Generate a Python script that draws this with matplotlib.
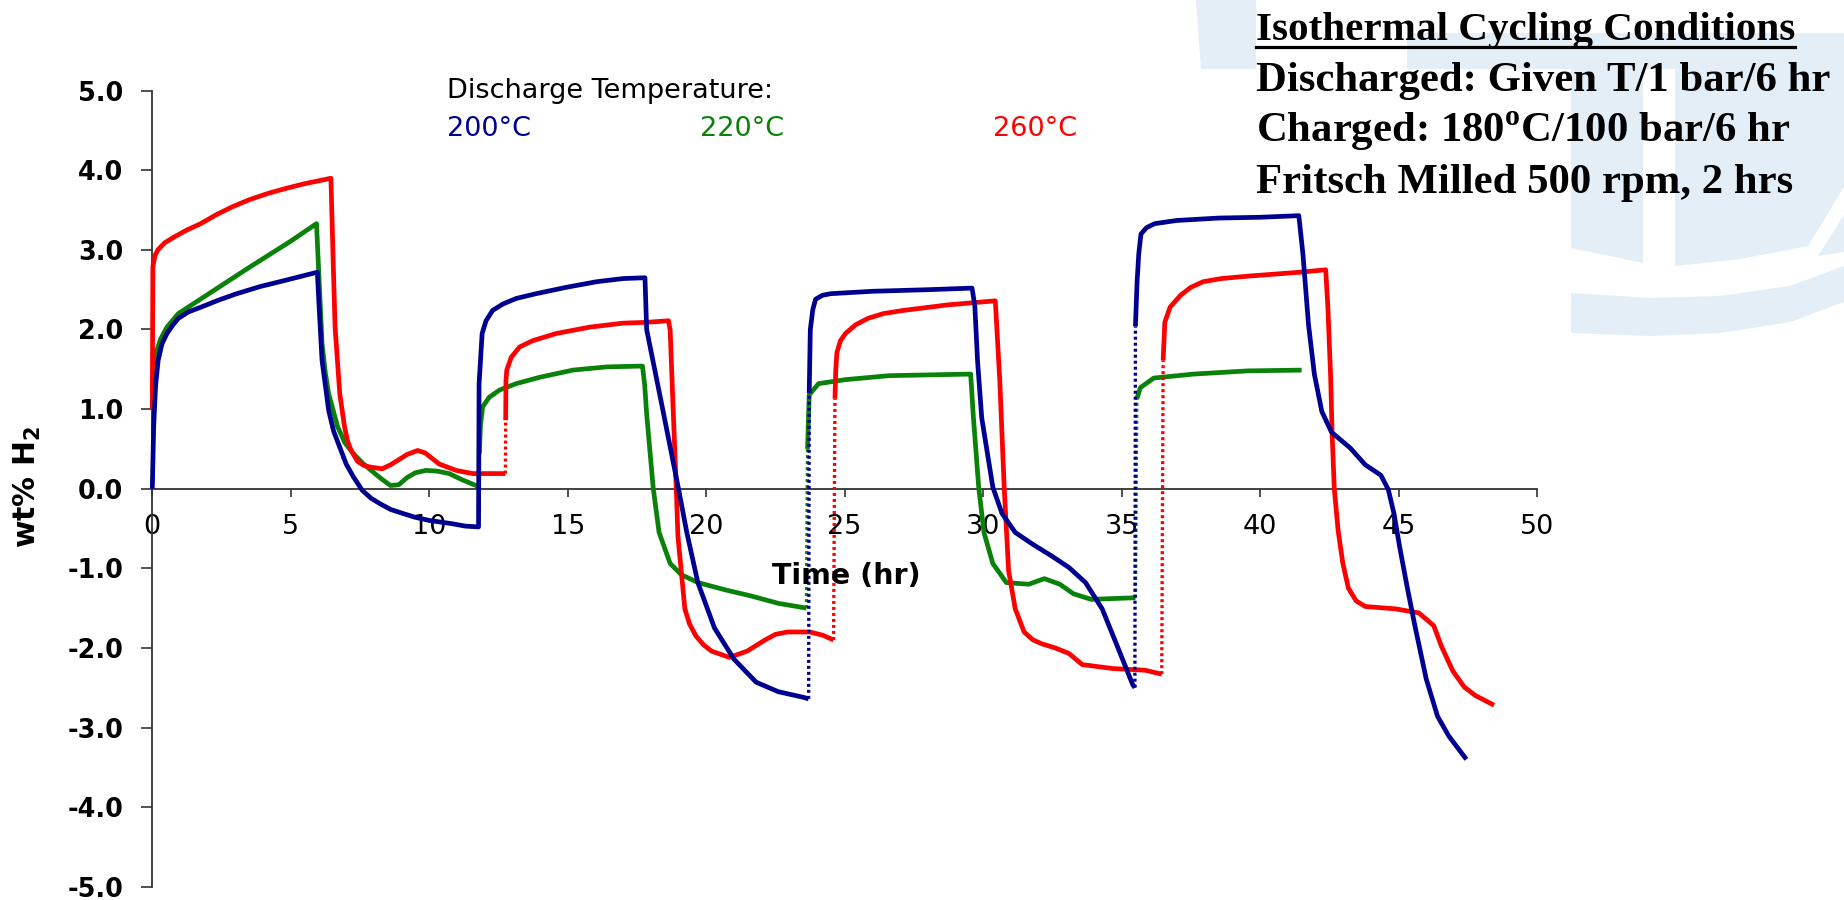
import numpy as np
import matplotlib
matplotlib.use("Agg")
import matplotlib.pyplot as plt
from matplotlib.patches import Polygon
from matplotlib.lines import Line2D

nan = np.nan

# ---------------- data ----------------
series_labels = ["200°C", "220°C", "260°C"]
series_colors = ["#000090", "#0a820a", "#ff0000"]

time_200 = [0, 0.05, 0.12, 0.21, 0.35, 0.53, 0.75, 0.94, 1.3, 1.75, 2.4, 3.05, 3.9, 4.83, 5.96,
            6.03, 6.13, 6.37, 6.55, 6.77, 7.0, 7.26, 7.58, 7.9, 8.23, 8.6, 9.04, 9.5, 10.02,
            10.83, 11.3, 11.78, 11.8, 11.91, 12.05, 12.29, 12.66, 13.14, 13.86, 14.95, 16.04,
            17.0, 17.79, 17.85, 18.4, 19.0, 19.3, 19.7, 20.3, 21.0, 21.8, 22.6, 23.5, 23.7,
            nan,
            23.72, 23.76, 23.85, 23.95, 24.2, 24.5, 26.0, 28.0, 29.6, 29.7, 29.8, 29.95, 30.35,
            30.68, 31.16, 31.8, 32.45, 33.1, 33.7, 34.3, 34.87, 35.4, 35.48,
            nan,
            35.5, 35.56, 35.62, 35.7, 35.9, 36.2, 37.0, 38.5, 40.0, 41.4, 41.55, 41.75, 41.96,
            42.23, 42.58, 43.26, 43.8, 44.36, 44.63, 44.84, 45.04, 45.32, 45.59, 46.0, 46.41,
            46.82, 47.45]
wt_200 = [0, 0.78, 1.3, 1.61, 1.82, 1.95, 2.06, 2.14, 2.22, 2.28, 2.37, 2.45, 2.54, 2.62, 2.72,
          2.24, 1.61, 0.98, 0.72, 0.52, 0.31, 0.15, -0.02, -0.12, -0.19, -0.26, -0.31, -0.36,
          -0.40, -0.44, -0.47, -0.48, 1.32, 1.95, 2.11, 2.24, 2.32, 2.39, 2.45, 2.53, 2.6,
          2.64, 2.65, 2.0, 1.05, 0.0, -0.55, -1.18, -1.75, -2.14, -2.43, -2.55, -2.62, -2.64,
          nan,
          1.2, 2.0, 2.25, 2.38, 2.43, 2.45, 2.48, 2.5, 2.52, 2.3, 1.6, 0.89, 0.02,
          -0.31, -0.55, -0.7, -0.84, -0.99, -1.18, -1.51, -2.0, -2.46, -2.5,
          nan,
          2.04, 2.6, 2.95, 3.2, 3.28, 3.33, 3.37, 3.4, 3.41, 3.43, 2.94, 2.06, 1.44,
          0.97, 0.71, 0.51, 0.30, 0.17, -0.01, -0.32, -0.73, -1.25, -1.72, -2.39, -2.86,
          -3.11, -3.4]

time_220 = [0.02, 0.06, 0.13, 0.3, 0.53, 0.94, 2.0, 3.5, 5.0, 5.93, 6.0, 6.13, 6.25, 6.37, 6.69,
            6.95, 7.26, 7.6, 7.9, 8.25, 8.6, 8.9, 9.2, 9.5, 9.88, 10.3, 10.72, 11.2, 11.69, 11.8,
            nan,
            11.81, 11.85, 11.93, 12.17, 12.54, 13.14, 13.99, 15.19, 16.4, 17.6, 17.7, 17.78,
            17.85, 18.09, 18.3, 18.7, 19.1, 19.71, 20.68, 21.65, 22.6, 23.62,
            nan,
            23.66, 23.72, 24.06, 25.03, 26.6, 29.55, 29.65, 29.84, 30.03, 30.35, 30.84, 31.65,
            32.21, 32.77, 33.26, 33.9, 35.5,
            nan,
            35.55, 35.68, 36.16, 37.6, 39.55, 41.5]
wt_220 = [1.0, 1.45, 1.7, 1.88, 2.03, 2.2, 2.44, 2.78, 3.11, 3.33, 2.79, 1.82, 1.45, 1.19, 0.78,
          0.58, 0.44, 0.32, 0.23, 0.13, 0.04, 0.05, 0.14, 0.2, 0.23, 0.22, 0.19, 0.11, 0.04, 0.02,
          nan,
          0.44, 0.8, 1.03, 1.15, 1.24, 1.32, 1.4, 1.49, 1.53, 1.54, 1.54, 1.3,
          0.94, 0.0, -0.55, -0.94, -1.08, -1.18, -1.27, -1.35, -1.44, -1.5,
          nan,
          0.5, 1.18, 1.32, 1.37, 1.42, 1.44, 0.89, 0.02, -0.55, -0.94, -1.18, -1.2,
          -1.13, -1.2, -1.32, -1.39, -1.37,
          nan,
          1.13, 1.27, 1.39, 1.44, 1.48, 1.49]

time_260 = [0, 0.02, 0.1, 0.2, 0.45, 0.78, 1.25, 1.75, 2.3, 2.88, 3.5, 4.18, 4.8, 5.48, 6.45,
            6.53, 6.6, 6.77, 6.94, 7.05, 7.18, 7.42, 7.65, 7.9, 8.3, 8.6, 8.88, 9.2, 9.58, 9.85,
            10.36, 10.97, 11.57, 12.75,
            nan,
            12.76, 12.77, 12.8, 12.96, 13.26, 13.74, 14.59, 15.8, 17.0, 17.85, 18.64, 18.7,
            18.79, 18.91, 18.98, 19.23, 19.4, 19.63, 19.9, 20.19, 20.84, 21.48, 22.13, 22.5,
            22.94, 23.74, 24.2, 24.6,
            nan,
            24.65, 24.68, 24.72, 24.85, 25.03, 25.4, 25.84, 26.4, 27.13, 28.74, 30.44, 30.6,
            30.76, 30.92, 31.16, 31.48, 31.8, 32.13, 32.6, 33.1, 33.58, 34.7, 35.84, 36.45,
            nan,
            36.5, 36.56, 36.75, 37.13, 37.5, 37.94, 38.6, 39.55, 41.45, 42.37, 42.45, 42.55,
            42.6, 42.68, 42.82, 42.99, 43.19, 43.47, 43.8, 44.9, 45.73, 46.27, 46.55, 46.96,
            47.37, 47.78, 48.45]
wt_260 = [1.0, 2.79, 2.93, 3.0, 3.09, 3.16, 3.25, 3.33, 3.44, 3.54, 3.63, 3.71, 3.77, 3.83, 3.9,
          2.87, 2.03, 1.19, 0.78, 0.6, 0.48, 0.34, 0.29, 0.27, 0.25, 0.3, 0.36, 0.43, 0.48, 0.45,
          0.31, 0.23, 0.19, 0.19,
          nan,
          0.86, 1.36, 1.49, 1.65, 1.78, 1.86, 1.95, 2.03, 2.08, 2.09, 2.11, 1.99,
          1.15, 0.1, -0.6, -1.51, -1.7, -1.85, -1.96, -2.04, -2.12, -2.04, -1.9, -1.83,
          -1.8, -1.8, -1.84, -1.9,
          nan,
          1.13, 1.5, 1.71, 1.86, 1.95, 2.06, 2.14, 2.2, 2.24, 2.31, 2.36, 1.37,
          0.02, -1.03, -1.51, -1.8, -1.9, -1.95, -2.0, -2.07, -2.21, -2.26, -2.28, -2.33,
          nan,
          1.61, 2.09, 2.28, 2.43, 2.53, 2.6, 2.64, 2.67, 2.72, 2.75, 2.27, 1.39,
          0.71, 0.0, -0.53, -0.94, -1.25, -1.41, -1.48, -1.51, -1.56, -1.72, -1.98, -2.29,
          -2.49, -2.6, -2.72]

x_ticks = [0, 5, 10, 15, 20, 25, 30, 35, 40, 45, 50]
y_ticks = [-5, -4, -3, -2, -1, 0, 1, 2, 3, 4, 5]
x_label = "Time (hr)"
y_label = r"wt% H$_{\mathsf{2}}$"
legend_title = "Discharge Temperature:"
conditions = ["Isothermal Cycling Conditions",
              "Discharged: Given T/1 bar/6 hr",
              r"Charged: 180$^{\mathbf{o}}$C/100 bar/6 hr",
              "Fritsch Milled 500 rpm, 2 hrs"]

# ---------------- figure ----------------
plt.rcParams['mathtext.fontset'] = 'custom'
plt.rcParams['mathtext.bf'] = 'Liberation Serif:bold'
plt.rcParams['mathtext.sf'] = 'DejaVu Sans:bold'
plt.rcParams['font.family'] = ['DejaVu Sans']

W, H = 1844, 900
fig = plt.figure(figsize=(W / 100, H / 100), dpi=100)
fig.patch.set_facecolor("white")


def fx(px):
    return px / W


def fy(py):
    return 1 - py / H


# light-blue background watermark (decoration)
wm = "#e3eef6"
wm_polys = [
    [(1196, 0), (1256, 0), (1256, 69), (1201, 69)],
    [(1407, 33), (1844, 33), (1844, 69), (1407, 69)],
    [(1571, 69), (1643, 69), (1643, 263), (1610, 256), (1571, 248)],
    [(1675, 69), (1844, 69), (1844, 187), (1808, 246), (1740, 259), (1675, 266)],
    [(1844, 215), (1844, 252), (1818, 256)],
    [(1571, 293), (1650, 298), (1720, 296), (1790, 286), (1844, 266),
     (1844, 302), (1790, 322), (1720, 333), (1650, 336), (1571, 333)],
]
for poly in wm_polys:
    fig.add_artist(Polygon([(fx(x), fy(y)) for x, y in poly], closed=True,
                           transform=fig.transFigure, facecolor=wm,
                           edgecolor="none", zorder=0))

ax_l, ax_r, ax_t, ax_b = 152.3, 1537.0, 90.7, 886.7
ax = fig.add_axes([fx(ax_l), fy(ax_b), (ax_r - ax_l) / W, (ax_b - ax_t) / H])
ax.patch.set_alpha(0)
ax.set_xlim(0, 50)
ax.set_ylim(-5, 5)

for s in ["top", "right"]:
    ax.spines[s].set_visible(False)
ax.spines["bottom"].set_position(("data", 0))
for s in ["bottom", "left"]:
    ax.spines[s].set_color("#333333")
    ax.spines[s].set_linewidth(1.3)

ax.set_xticks(x_ticks)
ax.set_xticklabels([str(v) for v in x_ticks])
ax.set_yticks(y_ticks)
ax.set_yticklabels([f"{v:.1f}" for v in y_ticks])
ax.tick_params(axis="x", direction="out", length=5.5, width=1.2, color="#333333",
               pad=13, labelsize=19.5)
ax.tick_params(axis="y", direction="out", length=8, width=1.2, color="#333333",
               pad=13, labelsize=18.4)
for lbl in ax.get_yticklabels():
    lbl.set_fontweight("bold")


def draw_series(t, w, color, z):
    t = np.asarray(t, float)
    w = np.asarray(w, float)
    br = np.where(np.isnan(t))[0]
    starts = np.r_[0, br + 1]
    ends = np.r_[br, len(t)]
    segs = [(t[s:e], w[s:e]) for s, e in zip(starts, ends)]
    for (ta, wa), (tb, wb) in zip(segs[:-1], segs[1:]):
        ax.plot([ta[-1], tb[0]], [wa[-1], wb[0]], color=color, lw=2.4,
                ls=(0, (0.9, 0.9)), zorder=z - 0.5, clip_on=False)
    for ts, ws in segs:
        ax.plot(ts, ws, color=color, lw=3.4, zorder=z, clip_on=False,
                solid_joinstyle="round", solid_capstyle="butt")


draw_series(time_220, wt_220, series_colors[1], 3)
draw_series(time_260, wt_260, series_colors[2], 4)
draw_series(time_200, wt_200, series_colors[0], 5)

ax.text(25.05, -1.1, x_label, ha="center", va="center", fontsize=20.5,
        fontweight="bold", zorder=6)
fig.text(fx(27.5), fy(487), y_label, rotation=90, ha="center", va="center",
         fontsize=21.5, fontweight="bold")

# legend-like labels
fig.text(fx(447), fy(91), legend_title, ha="left", va="center", fontsize=19.5)
for lab, col, xp in zip(series_labels, series_colors, [447, 700, 993]):
    fig.text(fx(xp), fy(129), lab, ha="left", va="center", fontsize=19.5, color=col)

# conditions block
baselines = [40, 91, 142, 193]
sizes = [29.6, 30.8, 30.8, 30.8]
txts = []
for s, b, fs in zip(conditions, baselines, sizes):
    txts.append(fig.text(fx(1256), fy(b), s, ha="left", va="baseline",
                         family="Liberation Serif", fontweight="bold",
                         fontsize=fs, color="black"))

fig.canvas.draw()
bb = txts[0].get_window_extent(fig.canvas.get_renderer())
fig.add_artist(Line2D([bb.x0 / W, bb.x1 / W], [fy(46.5), fy(46.5)],
                      transform=fig.transFigure, color="black", lw=2.3))

fig.savefig("out.png", dpi=100, facecolor="white")
